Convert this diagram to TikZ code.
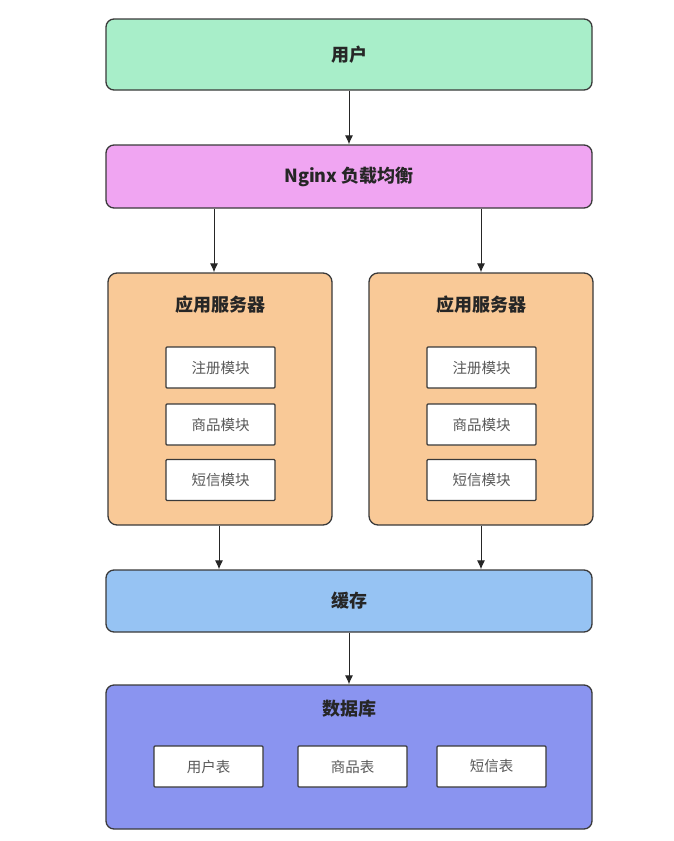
\documentclass[tikz,border=0pt]{standalone}
\usepackage{fontspec}
\usepackage{xcolor}
\usepackage{tikz}
\usetikzlibrary{arrows.meta,positioning,calc}
\newfontfamily\cjk{Noto Sans CJK SC}
\definecolor{archline}{HTML}{3A3A3A}
\definecolor{userfill}{HTML}{A8EEC9}
\definecolor{nginxfill}{HTML}{F0A5F2}
\definecolor{appfill}{HTML}{F9C997}
\definecolor{cachefill}{HTML}{96C3F3}
\definecolor{dbfill}{HTML}{8A94F0}
\tikzset{
 arch flow/.style={-{Latex[length=9pt,width=8pt]},line width=1pt,draw=black!85},
 arch layer/.style={draw=archline,line width=1.3pt,rounded corners=8pt,
   inner sep=0pt,minimum width=486pt,font=\cjk\bfseries\fontsize{18}{21}\selectfont,
   text=black!85},
 arch server/.style={draw=archline,line width=1.3pt,rounded corners=9pt,fill=appfill,
   inner sep=0pt,minimum width=224pt,minimum height=252pt},
 arch title/.style={font=\cjk\bfseries\fontsize{18}{21}\selectfont,text=black!85},
 arch module/.style={draw=archline,line width=1.2pt,rounded corners=1pt,fill=white,
   inner sep=0pt,minimum width=109pt,minimum height=41pt,
   font=\cjk\fontsize{14.5}{17}\selectfont,text=black!65}
}
\begin{document}
\begin{tikzpicture}[x=1pt,y=-1pt]
\useasboundingbox (0,0) rectangle (673,841);
% layers
\node[arch layer,fill=userfill,minimum height=71pt] (user) at (349,54.5) {用户};
\node[arch layer,fill=nginxfill,minimum height=63pt] (nginx) at (349,176.5) {Nginx 负载均衡};
\node[arch server] (appL) at (220,399) {};
\node[arch server] (appR) at (481,399) {};
\node[arch layer,fill=cachefill,minimum height=62pt] (cache) at (349,601) {缓存};
\node[arch layer,fill=dbfill,minimum height=144pt] (db) at (349,757) {};
% server contents
\node[arch title] (appLtitle) at (220,305) {应用服务器};
\node[arch title] (appRtitle) at (481,305) {应用服务器};
\node[arch module] (regL) at (220.5,367.5) {注册模块};
\node[arch module] (goodsL) at (220.5,424.5) {商品模块};
\node[arch module] (smsL) at (220.5,480) {短信模块};
\node[arch module] (regR) at (481.5,367.5) {注册模块};
\node[arch module] (goodsR) at (481.5,424.5) {商品模块};
\node[arch module] (smsR) at (481.5,480) {短信模块};
% database contents
\node[arch title] (dbtitle) at (349,709) {数据库};
\node[arch module] (usertab) at (208.5,766.5) {用户表};
\node[arch module] (goodstab) at (352.5,766.5) {商品表};
\node[arch module] (smstab) at (491.5,766.5) {短信表};
% connectors
\draw[arch flow] (user.south)--(nginx.north);
\draw[arch flow] (nginx.south -| 214,0)--(appL.north -| 214,0);
\draw[arch flow] (nginx.south -| appR.north)--(appR.north);
\draw[arch flow] (appL.south -| 219,0)--(cache.north -| 219,0);
\draw[arch flow] (appR.south)--(cache.north -| appR.south);
\draw[arch flow] (cache.south)--(db.north);
\end{tikzpicture}
\end{document}
